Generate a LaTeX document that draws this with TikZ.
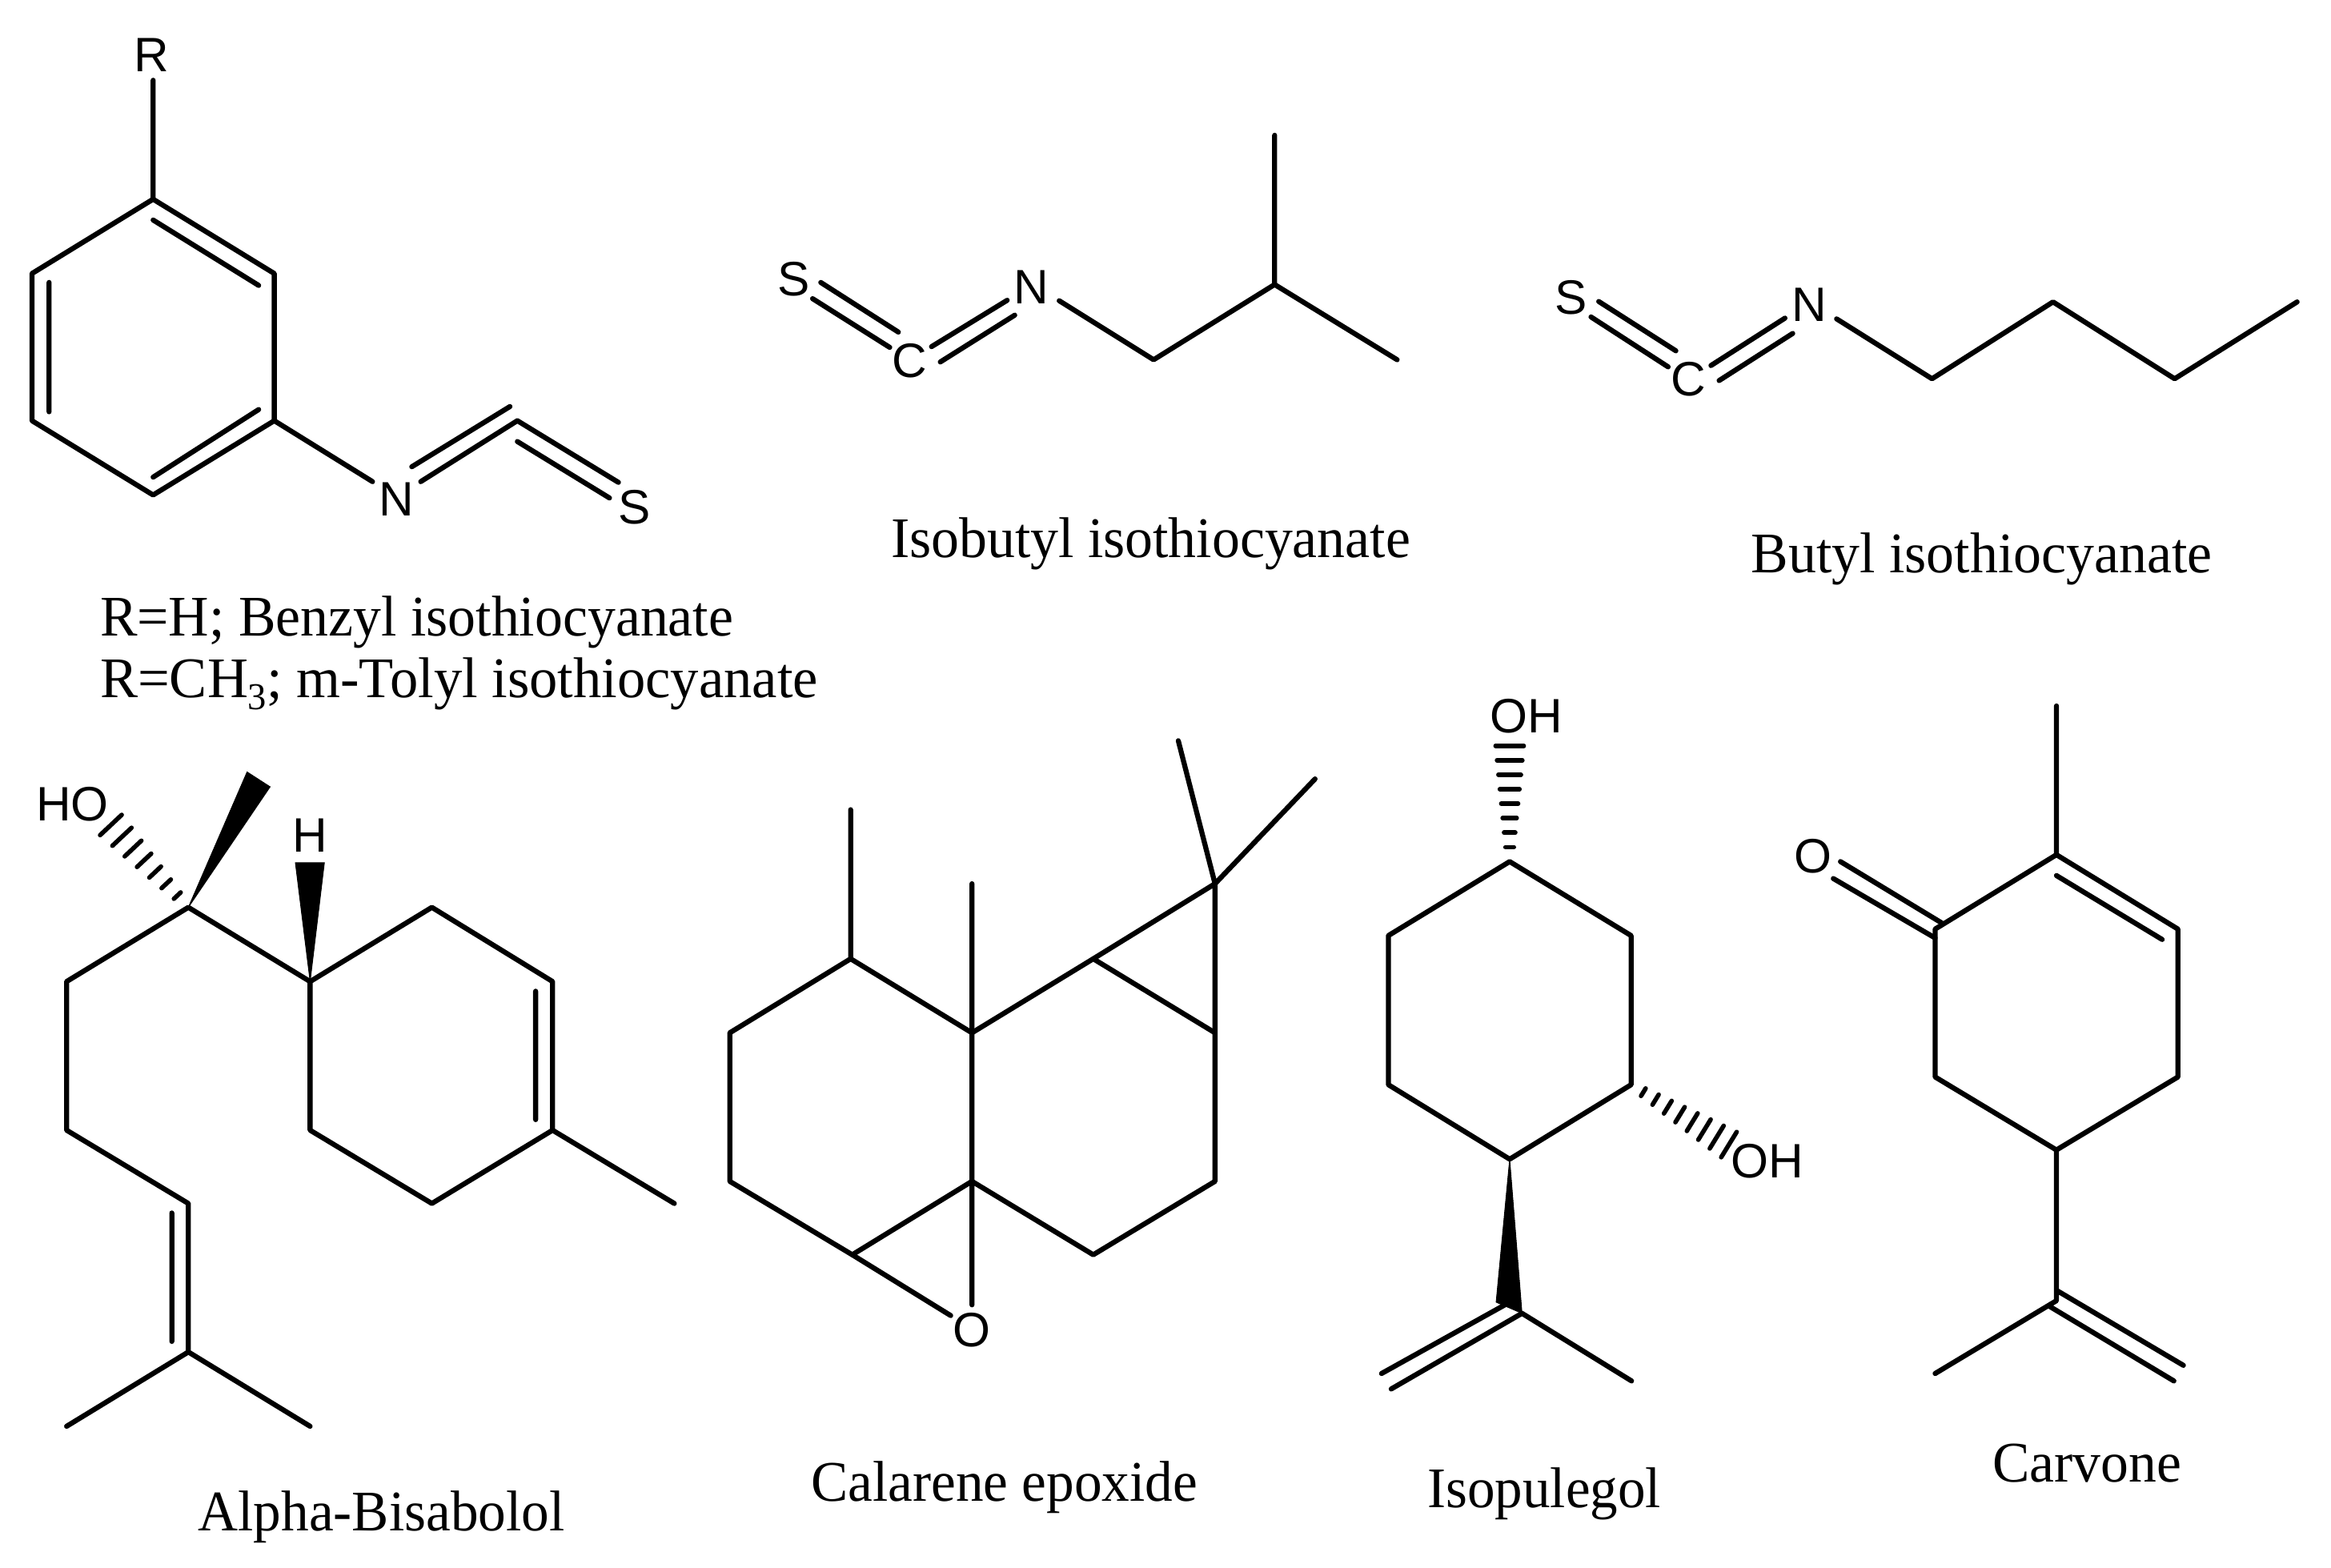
\documentclass[tikz,border=0pt]{standalone}
\usepackage{fontspec}
\usepackage{graphicx}
\setmainfont{Liberation Serif}
\newfontfamily\atomfont{Liberation Sans}
\usetikzlibrary{calc}
\tikzset{
  bond/.style={line width=0.068cm,line cap=round,line join=round,black},
  hashline/.style={line width=0.06cm,line cap=round,black},
  wedgefill/.style={fill=black,draw=black,line width=0.01cm,line join=miter},
  atom/.style={inner sep=0pt,font=\atomfont\fontsize{18.5}{20}\selectfont},
  captxt/.style={inner sep=0pt,anchor=base west,font=\fontsize{22}{24}\selectfont}
}
\newcommand{\hashbond}[4]{% tip, wide, count, half width
  \foreach \i in {1,...,#3}{
    \pgfmathsetmacro{\hashpos}{\i/#3}
    \pgfmathsetmacro{\hashwid}{(#4)*(0.2+0.8*\hashpos)}
    \draw[hashline] ($($(#1)!\hashpos!(#2)$)!\hashwid cm!90:(#1)$) -- ($($(#1)!\hashpos!(#2)$)!\hashwid cm!-90:(#1)$);
  }}
\begin{document}
\begin{tikzpicture}[x=0.02cm,y=-0.02cm]
\useasboundingbox[fill=white] (0,0) rectangle (1568,1054.8);

% ---------- aryl isothiocyanate
\node[atom] (Rlab) at (102,37) {R};
\node[atom] (Na) at (266.5,336) {N};
\node[atom] (Sa) at (427,341) {S};
\foreach \n/\x/\y in {ar0/103/54,ar1/103/134,ar2/184.5/184,ar3/184.5/283,ar4/103/333,ar5/21.5/283,ar6/21.5/184,
  ai1/103/148,ai2/174/192,ai3/174/275.5,ai4/103/321,ai5/33/277,ai6/33/190,
  aN/250.6/324,aC/348/283,aNo/283/324,aNi/277/314,aCi/343/273.5,aSo/416/324.5,aCs/348/297,aSi/410/335}
  {\coordinate (\n) at (\x,\y);}
\draw[bond] (ar1)--(ar2)--(ar3)--(ar4)--(ar5)--(ar6)--cycle;
\draw[bond] (ar0)--(ar1) (ai1)--(ai2) (ai3)--(ai4) (ai5)--(ai6) (ar3)--(aN);
\draw[bond] (aNo)--(aC) (aNi)--(aCi) (aC)--(aSo) (aCs)--(aSi);
\node[captxt] (cap1) at (67,428) {\resizebox{8.52cm}{\height}{R=H; Benzyl isothiocyanate}};
\node[captxt] (cap2) at (67,469) {\resizebox{9.66cm}{\height}{R=CH\raisebox{-0.22em}{\scalebox{0.66}{3}}; m-Tolyl isothiocyanate}};

% ---------- isobutyl isothiocyanate
\node[atom] (Nb) at (693.6,193) {N};
\node[atom] (Cb) at (611.9,242.5) {C};
\node[atom] (Sb) at (533.9,187.5) {S};
\foreach \n/\x/\y in {b0/857.4/91,b1/857.4/191.4,b2/939.8/242,b3/776/242,b4/712.5/202.3,
  bn1/677.5/202,bc1/626.6/233.2,bn2/682.6/212,bc2/632.5/243.5,
  bs1/552.1/190,bd1/604.3/223.4,bs2/546.6/200.9,bd2/598.5/233.7}
  {\coordinate (\n) at (\x,\y);}
\draw[bond] (b0)--(b1)--(b2) (b1)--(b3)--(b4);
\draw[bond] (bn1)--(bc1) (bn2)--(bc2) (bs1)--(bd1) (bs2)--(bd2);
\node[captxt] (cap3) at (599,375) {\resizebox{6.99cm}{\height}{Isobutyl isothiocyanate}};

% ---------- butyl isothiocyanate
\node[atom] (Nc) at (1217.2,205) {N};
\node[atom] (Cc) at (1135.5,254.8) {C};
\node[atom] (Sc) at (1056.9,200) {S};
\foreach \n/\x/\y in {c1/1545.2/203.1,c2/1462.8/254.8,c3/1381/203.1,c4/1299.6/254.8,c5/1235.4/214.5,
  cn1/1200.7/214,cc1/1150.9/245.9,cn2/1205.9/224.3,cc2/1156.4/256,
  cs1/1075.4/202.8,cd1/1127.3/236,cs2/1070.2/213.2,cd2/1122.1/246.8}
  {\coordinate (\n) at (\x,\y);}
\draw[bond] (c1)--(c2)--(c3)--(c4)--(c5);
\draw[bond] (cn1)--(cc1) (cn2)--(cc2) (cs1)--(cd1) (cs2)--(cd2);
\node[captxt] (cap4) at (1177.7,385) {\resizebox{6.2cm}{\height}{Butyl isothiocyanate}};

% ---------- alpha-bisabolol
\node[atom] (HO) at (48.7,541) {HO};
\node[atom] (Hd) at (208.3,562) {H};
\foreach \n/\x/\y in {d1/126.7/610.4,d2/44.8/660.3,d3/44.8/760.3,d4/126.7/809.6,d5/126.7/909.5,d6/44.8/959.5,d7/208.6/959.5,
  di1/115.6/816,di2/115.6/902.4,r1/208.6/660.3,r2/290.5/610.4,r3/371.7/660.3,r4/371.7/760.3,r5/290.5/809.6,r6/208.6/760.3,
  ri1/360.3/666.8,ri2/360.3/753.2,rm/453.6/809.6,w1/166.2/519.3,w2/181.7/529.3,w3/198.7/580.4,w4/218.2/580.4,hd/74.6/555}
  {\coordinate (\n) at (\x,\y);}
\draw[bond] (r1)--(d1)--(d2)--(d3)--(d4)--(d5)--(d6) (d5)--(d7) (di1)--(di2);
\draw[bond] (r1)--(r2)--(r3)--(r4)--(r5)--(r6)--cycle;
\draw[bond] (ri1)--(ri2) (r4)--(rm);
\fill[wedgefill] (d1)--(w1)--(w2)--cycle;
\fill[wedgefill] (r1)--(w3)--(w4)--cycle;
\hashbond{d1}{hd}{7}{0.2}
\node[captxt] (cap5) at (133,1030) {\resizebox{4.93cm}{\height}{Alpha-Bisabolol}};

% ---------- calarene epoxide
\node[atom] (Oe) at (653.5,895) {O};
\foreach \n/\x/\y in {e1/572.2/544.7,e2/572.2/645,e3/653.8/694.8,e4/490.9/694.8,e5/490.9/794.7,e6/573.3/844.1,e7/653.8/794.7,
  e8/653.8/594.5,e9/653.8/877.8,e10/639.5/885,e11/735.4/844.1,e12/817.3/794.7,e13/817.3/694.8,e14/735.4/645,e15/817.3/594.5,e16/792.6/498.3,e17/884.6/524}
  {\coordinate (\n) at (\x,\y);}
\draw[bond] (e1)--(e2)--(e3)--(e8) (e2)--(e4)--(e5)--(e6)--(e7)--(e3);
\draw[bond] (e7)--(e9) (e6)--(e10) (e7)--(e11)--(e12)--(e13)--(e14)--(e3);
\draw[bond] (e14)--(e15)--(e13) (e16)--(e15)--(e17);
\node[captxt] (cap6) at (545.3,1010) {\resizebox{5.2cm}{\height}{Calarene epoxide}};

% ---------- isopulegol
\node[atom] (OHf) at (1026.5,482) {OH};
\node[atom] (OHg) at (1189,781) {OH};
\foreach \n/\x/\y in {f1/1015.5/579.6,f2/1097.2/629.4,f3/1097.2/729.7,f4/1015.5/779.8,f5/933.9/729.7,f6/933.9/629.4,
  fh1/1015.5/501.7,fh2/1163/770,fw1/1006.4/876,fw2/1023.8/883.5,
  fm/1097.5/929,fo/935.8/934.4,fi1/1013.2/877.3,fi2/929.3/924}
  {\coordinate (\n) at (\x,\y);}
\draw[bond] (f1)--(f2)--(f3)--(f4)--(f5)--(f6)--cycle;
\draw[bond] (fw2)--(fm) (fw2)--(fo) (fi1)--(fi2);
\fill[wedgefill] (f4)--(fw1)--(fw2)--cycle;
\hashbond{f1}{fh1}{8}{0.19}
\hashbond{f3}{fh2}{8}{0.2}
\node[captxt] (cap7) at (960,1014) {\resizebox{3.14cm}{\height}{Isopulegol}};

% ---------- carvone
\node[atom] (Og) at (1219.6,576) {O};
\foreach \n/\x/\y in {g0/1383.3/474.9,g1/1383.3/575,g2/1465/625,g3/1465/724.5,g4/1383.3/773.6,g5/1301.7/724.5,g6/1301.7/625,
  gi1/1383.3/589,gi2/1454.4/632,go1/1301.7/631,go2/1233.2/591,go3/1306/620.8,go4/1238/579.6,
  g7/1383.3/875,g8/1301.7/924,gd1/1383.3/868,gd2/1468.7/918.5,gd3/1378/878.4,gd4/1462.3/929}
  {\coordinate (\n) at (\x,\y);}
\draw[bond] (g1)--(g2)--(g3)--(g4)--(g5)--(g6)--cycle;
\draw[bond] (g0)--(g1) (gi1)--(gi2) (go1)--(go2) (go3)--(go4);
\draw[bond] (g4)--(g7)--(g8) (gd1)--(gd2) (gd3)--(gd4);
\node[captxt] (cap8) at (1340,997) {\resizebox{2.54cm}{\height}{Carvone}};
\end{tikzpicture}
\end{document}
